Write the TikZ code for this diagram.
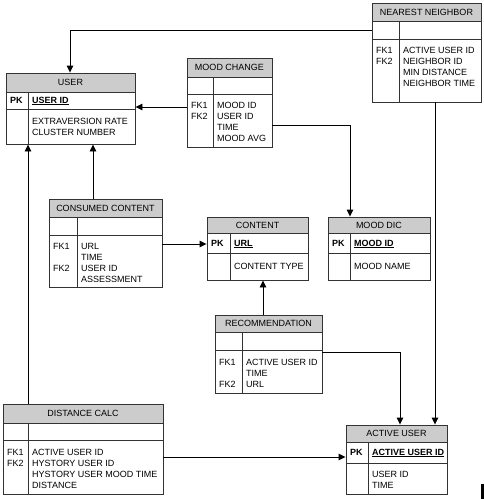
\documentclass[tikz,border=0pt]{standalone}
\usepackage{fontspec}
\setmainfont{Liberation Sans}
\usetikzlibrary{arrows.meta,fit}
\tikzset{
  hdr/.style={fill=black!20},
  tbox/.style={draw=black!80, line width=0.9pt, inner sep=0pt},
  tline/.style={draw=black!80, line width=0.9pt},
  ttl/.style={inner sep=0pt, font=\fontsize{9}{10}\selectfont},
  att/.style={inner sep=0pt, anchor=base west, font=\fontsize{9}{10}\selectfont},
  conn/.style={draw=black, line width=0.9pt, -{Triangle[length=7pt,width=6.5pt]}}
}
% name, x1, y1, x2, y2, header bottom, row bottom, divider x, title
\newcommand\ertable[9]{%
  \fill[hdr] (#2,#3) rectangle (#4,#6);
  \draw[tline] (#2,#6) -- (#4,#6);
  \draw[tline] (#2,#7) -- (#4,#7);
  \draw[tline] (#8,#6) -- (#8,#5);
  \node[tbox, fit={(#2,#3) (#4,#5)}] (#1) {};
  \node[ttl] (#1-title) at ({(#2+#4)/2},{(#3+#6)/2}) {#9};
}
% prefix, x, first centre y, items
\newcommand\ercol[4]{%
  \foreach \t [count=\i] in {#4} {\node[att] (#1-\i) at (#2,{#3+3.2+(\i-1)*11}) {\t};}
}
\begin{document}
\begin{tikzpicture}[x=1pt,y=-1pt]
\fill[white] (0,0) rectangle (484,499);
\useasboundingbox (0,0) rectangle (484,499);

% USER
\ertable{user}{6}{73}{135}{144}{92}{109}{28}{USER}
\node[att] (user-pk) at (10,103.2) {\textbf{PK}};
\node[att] (user-k) at (32,103.2) {\underline{\textbf{USER ID}}};
\ercol{user-a}{32}{121}{EXTRAVERSION RATE,CLUSTER NUMBER}

% MOOD CHANGE
\ertable{mc}{187}{58}{272}{147}{77}{94}{213}{MOOD CHANGE}
\ercol{mc-f}{191}{105}{FK1,FK2}
\ercol{mc-a}{217}{105}{MOOD ID,USER ID,TIME,MOOD AVG}

% NEAREST NEIGHBOR
\ertable{nn}{372}{3}{481}{102}{21}{39}{399}{NEAREST NEIGHBOR}
\ercol{nn-f}{376}{50}{FK1,FK2}
\ercol{nn-a}{403}{50}{ACTIVE USER ID,NEIGHBOR ID,MIN DISTANCE,NEIGHBOR TIME}

% CONSUMED CONTENT
\ertable{cc}{49}{199}{162}{287}{217}{235}{77}{CONSUMED CONTENT}
\node[att] (cc-f1) at (53,249.2) {FK1};
\node[att] (cc-f2) at (53,271.2) {FK2};
\ercol{cc-a}{81}{246}{URL,TIME,USER ID,ASSESSMENT}

% CONTENT
\ertable{ct}{207}{217}{308}{280}{233}{253}{230}{CONTENT}
\node[att] (ct-pk) at (211,246.2) {\textbf{PK}};
\node[att] (ct-k) at (234,246.2) {\underline{\textbf{URL}}};
\ercol{ct-a}{234}{266}{CONTENT TYPE}

% MOOD DIC
\ertable{md}{328}{217}{430}{280}{233}{253}{350}{MOOD DIC}
\node[att] (md-pk) at (332,246.2) {\textbf{PK}};
\node[att] (md-k) at (354,246.2) {\underline{\textbf{MOOD ID}}};
\ercol{md-a}{354}{266}{MOOD NAME}

% RECOMMENDATION
\ertable{rec}{215}{315}{322}{393}{332}{350}{242}{RECOMMENDATION}
\node[att] (rec-f1) at (219,365.2) {FK1};
\node[att] (rec-f2) at (219,387.2) {FK2};
\ercol{rec-a}{246}{362}{ACTIVE USER ID,TIME,URL}

% DISTANCE CALC
\ertable{dc}{3}{404}{163}{494}{423}{440}{28}{DISTANCE CALC}
\ercol{dc-f}{7}{452}{FK1,FK2}
\ercol{dc-a}{32}{452}{ACTIVE USER ID,HYSTORY USER ID,HYSTORY USER MOOD TIME,DISTANCE}

% ACTIVE USER
\ertable{au}{346}{425}{447}{494}{442}{463}{368}{ACTIVE USER}
\node[att] (au-pk) at (350,455.2) {\textbf{PK}};
\node[att] (au-k) at (372,455.2) {\underline{\textbf{ACTIVE USER ID}}};
\ercol{au-a}{372}{474}{USER ID,TIME}

% connectors
\coordinate (k1) at (70,30);
\draw[conn] (nn.west |- k1) -- (k1) -- (user.north -| k1);
\coordinate (k2) at (0,107);
\draw[conn] (mc.west |- k2) -- (user.east |- k2);
\coordinate (k3) at (350,125);
\draw[conn] (mc.east |- k3) -- (k3) -- (md.north -| k3);
\coordinate (k4) at (93,0);
\draw[conn] (cc.north -| k4) -- (user.south -| k4);
\coordinate (k5) at (28,0);
\draw[conn] (dc.north -| k5) -- (user.south -| k5);
\coordinate (k6) at (0,244);
\draw[conn] (cc.east |- k6) -- (ct.west |- k6);
\coordinate (k7) at (263,0);
\draw[conn] (rec.north -| k7) -- (ct.south -| k7);
\coordinate (k8) at (400,352);
\draw[conn] (rec.east |- k8) -- (k8) -- (au.north -| k8);
\coordinate (k9) at (435,0);
\draw[conn] (nn.south -| k9) -- (au.north -| k9);
\coordinate (k10) at (0,457);
\draw[conn] (dc.east |- k10) -- (au.west |- k10);

% marker bar at bottom right
\fill[black] (481,484) rectangle (484,499);
\end{tikzpicture}
\end{document}
